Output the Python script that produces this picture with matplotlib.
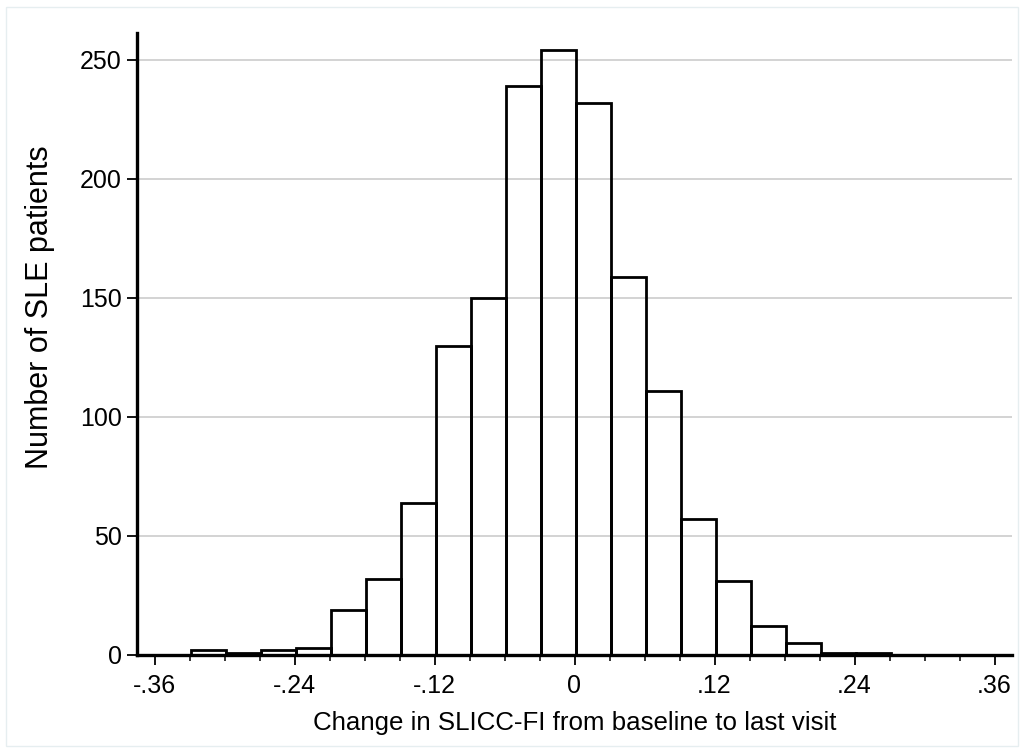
import matplotlib
matplotlib.use("Agg")
import matplotlib.pyplot as plt
from matplotlib.patches import Rectangle
import numpy as np

plt.rcParams['font.family'] = ['Liberation Sans', 'DejaVu Sans']

# Data (histogram)
bin_start = -0.3287
bin_width = 0.03
counts = [2, 1, 2, 3, 19, 32, 64, 130, 150, 239, 254, 232, 159, 111, 57, 31, 12, 5, 1, 1, 0]

x_ticks = [-0.36, -0.24, -0.12, 0, 0.12, 0.24, 0.36]
x_tick_labels = ['-.36', '-.24', '-.12', '0', '.12', '.24', '.36']
y_ticks = [0, 50, 100, 150, 200, 250]
y_tick_labels = ['0', '50', '100', '150', '200', '250']
x_label = 'Change in SLICC-FI from baseline to last visit'
y_label = 'Number of SLE patients'

fig = plt.figure(figsize=(10.24, 7.53), dpi=100)
fig.patch.set_facecolor('white')
fig.add_artist(Rectangle((6/1024, 1 - 746/753), 1012/1024, 739/753,
                         transform=fig.transFigure, fill=False,
                         edgecolor='#e6eef0', linewidth=1.0))

ax = fig.add_axes([137/1024, 1 - 655/753, 875/1024, 622/753])

lefts = bin_start + bin_width * np.arange(len(counts))
ax.bar(lefts, counts, width=bin_width, align='edge', fill=False,
       edgecolor='black', linewidth=2.0, zorder=3)

ax.set_xlim(-0.375, 0.375)
ax.set_ylim(0, 261.3)

ax.set_xticks(x_ticks)
ax.set_xticklabels(x_tick_labels)
ax.set_xticks(np.arange(-0.36, 0.3601, 0.03), minor=True)
ax.set_yticks(y_ticks)
ax.set_yticklabels(y_tick_labels)

ax.tick_params(axis='both', which='major', direction='out', length=7, width=1.3,
               labelsize=18, colors='black', pad=4)
ax.tick_params(axis='x', which='minor', direction='out', length=4, width=1.1)
ax.tick_params(axis='x', which='major', pad=7)

ax.yaxis.grid(True, color='#d3d3d3', linewidth=1.4, zorder=1)
ax.set_axisbelow(True)

for s in ['top', 'right']:
    ax.spines[s].set_visible(False)
for s in ['left', 'bottom']:
    ax.spines[s].set_linewidth(2.4)
    ax.spines[s].set_color('black')
    ax.spines[s].set_zorder(4)

ax.set_xlabel(x_label, fontsize=18.6, labelpad=9)
ax.set_ylabel(y_label, fontsize=22, ha='center', va='center')
ax.yaxis.set_label_coords((40 - 137) / 875, (655 - 307) / 622)

fig.savefig('out.png', dpi=100, facecolor='white')
